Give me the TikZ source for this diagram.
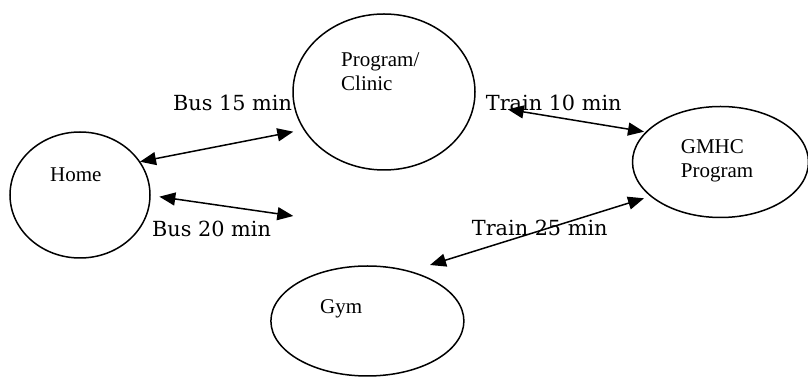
\documentclass[tikz,border=0pt]{standalone}
\usepackage{fontspec}
\setmainfont{Liberation Serif}
\newfontfamily\edgefont{DejaVu Serif}
\usetikzlibrary{shapes.geometric,arrows.meta}
\begin{document}
\begin{tikzpicture}[x=1pt,y=1pt,
  place/.style={draw,ellipse,line width=1.5pt,inner sep=0pt},
  placetext/.style={anchor=base west,inner sep=0pt,align=left,
    font=\fontsize{21}{24.5}\selectfont},
  edgetext/.style={anchor=base west,inner sep=0pt,
    font=\edgefont\fontsize{20.8}{24}\selectfont},
  link/.style={line width=1.5pt,{Triangle[length=16pt,width=13pt]}-{Triangle[length=16pt,width=13pt]}}]
\useasboundingbox (0,0) rectangle (808,377);

% places
\node[place,minimum width=140pt,minimum height=126pt] (home) at (80,182) {};
\node[place,minimum width=182pt,minimum height=156pt] (clinic) at (384,285) {};
\node[place,minimum width=176pt,minimum height=111pt] (gmhc) at (720.5,215) {};
\node[place,minimum width=193pt,minimum height=110pt] (gym) at (367.4,56) {};

% place names (base anchor sits on the last line)
\node[placetext] (homeLabel) at (50,195) {Home};
\node[placetext] (clinicLabel) at (341,286.3) {Program/\\Clinic};
\node[placetext] (gmhcLabel) at (680.7,199) {GMHC\\Program};
\node[placetext] (gymLabel) at (320,63) {Gym};

% travel times
\node[edgetext] (bus15) at (173,266) {Bus 15 min};
\node[edgetext] (bus20) at (152,140.3) {Bus 20 min};
\node[edgetext] (train10) at (485.7,266.3) {Train 10 min};
\node[edgetext] (train25) at (471.7,141.3) {Train 25 min};

% connector ends
\coordinate (a1s) at (140,215.3);
\coordinate (a1e) at (293.3,245.3);
\coordinate (a2s) at (159.3,180.3);
\coordinate (a2e) at (293.3,161);
\coordinate (a3s) at (507.7,267.7);
\coordinate (a3e) at (644,245.3);
\coordinate (a4s) at (644,178.7);
\coordinate (a4e) at (430,112);

% routes
\draw[link] (a1s) -- (a1e);
\draw[link] (a2s) -- (a2e);
\draw[link] (a3s) -- (a3e);
\draw[link] (a4s) -- (a4e);
\end{tikzpicture}
\end{document}
